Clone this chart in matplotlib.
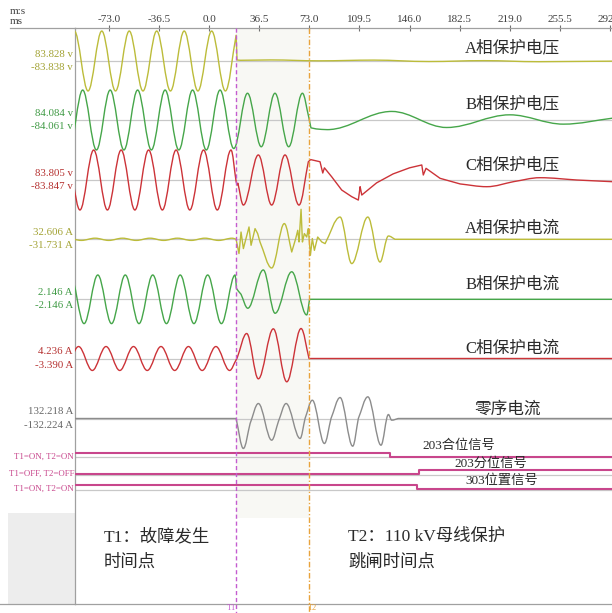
import matplotlib.pyplot as plt
from matplotlib.path import Path
from matplotlib.patches import PathPatch, Rectangle

plt.rcParams['font.family'] = ['Liberation Serif', 'Noto Sans CJK SC']

# time axis, ms
T_MIN, T_MAX = -97.6, 293.4
TICKS = [-73.0, -36.5, 0.0, 36.5, 73.0, 109.5, 146.0, 182.5, 219.0, 255.5, 292.0]
T1, T2 = 19.7, 73.0

CHANNELS = ['A相保护电压', 'B相保护电压', 'C相保护电压',
            'A相保护电流', 'B相保护电流', 'C相保护电流', '零序电流']
MAX_LABELS = ['83.828 v', '84.084 v', '83.805 v', '32.606 A', '2.146 A', '4.236 A', '132.218 A']
MIN_LABELS = ['-83.838 v', '-84.061 v', '-83.847 v', '-31.731 A', '-2.146 A', '-3.390 A', '-132.224 A']
FULL_SCALE = [83.828, 84.084, 83.805, 32.606, 2.146, 4.236, 132.218]

# keypoints: (time ms, value, 's' smooth extremum / 'l' corner)
VA_PTS = [(-98.1, 83.8, 's'), (-88.1, -83.8, 's'), (-78.1, 83.8, 's'), (-68.1, -83.8, 's'),
          (-58.1, 83.8, 's'), (-48.1, -83.8, 's'), (-38.1, 83.8, 's'), (-28.1, -83.8, 's'),
          (-18.1, 83.8, 's'), (-8.1, -83.8, 's'), (1.9, 83.8, 's'), (11.9, -83.8, 's'),
          (19.7, 72.0, 'l'), (20.4, 3.0, 'l'), (23.0, 2.0, 's'), (45.0, 3.0, 's'),
          (80.0, 0.5, 's'), (120.0, 2.5, 's'), (160.0, -1.5, 's'), (200.0, 1.0, 's'),
          (240.0, -2.0, 's'), (293.5, -0.5, 's')]

VB_PTS = [(-102.0, -84.0, 's'), (-92.0, 84.0, 's'), (-82.0, -84.0, 's'), (-72.0, 84.0, 's'),
          (-62.0, -84.0, 's'), (-52.0, 84.0, 's'), (-42.0, -84.0, 's'), (-32.0, 84.0, 's'),
          (-22.0, -84.0, 's'), (-12.0, 84.0, 's'), (-2.0, -84.0, 's'), (8.0, 84.0, 's'),
          (18.0, -80.0, 's'), (28.0, 75.0, 's'), (38.0, -75.0, 's'), (48.0, 75.0, 's'),
          (58.0, -75.0, 's'), (68.0, 75.0, 's'), (72.6, 8.0, 'l'), (74.2, -22.0, 'l'),
          (78.0, -25.0, 'l'), (86.0, -27.0, 's'), (133.0, 24.0, 's'), (173.0, -21.0, 's'),
          (219.0, 14.5, 's'), (258.0, -11.6, 's'), (293.5, 5.0, 'l')]

VC_PTS = [(-104.0, 83.8, 's'), (-94.0, -83.8, 's'), (-84.0, 83.8, 's'), (-74.0, -83.8, 's'),
          (-64.0, 83.8, 's'), (-54.0, -83.8, 's'), (-44.0, 83.8, 's'), (-34.0, -83.8, 's'),
          (-24.0, 83.8, 's'), (-14.0, -83.8, 's'), (-4.0, 83.8, 's'), (6.0, -83.8, 's'),
          (16.0, 83.8, 's'), (19.7, -4.0, 'l'), (20.4, -14.0, 'l'), (21.0, -9.0, 'l'),
          (25.0, -70.0, 's'), (35.9, 70.0, 's'), (45.6, -70.0, 's'), (55.3, 70.0, 's'),
          (65.5, -70.0, 's'), (72.3, 51.0, 'l'), (74.0, 57.0, 'l'), (80.8, 51.0, 'l'),
          (82.8, 19.5, 'l'), (84.0, 34.0, 'l'), (89.3, 9.0, 'l'), (96.6, -28.0, 'l'),
          (103.9, -46.6, 'l'), (108.7, -56.0, 'l'), (110.0, -18.7, 'l'), (111.2, -42.0, 'l'),
          (115.0, -30.0, 'l'), (122.0, -8.0, 'l'), (134.0, 17.0, 'l'), (146.0, 34.0, 'l'),
          (154.9, 42.0, 'l'), (156.0, 14.0, 'l'), (158.0, 32.6, 'l'), (168.2, 4.7, 'l'),
          (182.8, -11.0, 'l'), (202.2, -18.7, 's'), (221.6, -4.7, 'l'), (241.0, 6.4, 's'),
          (267.7, 0.0, 'l'), (293.5, -4.7, 'l')]

IA_PTS = [(-103.0, 1.2, 's'), (-93.0, -1.2, 's'), (-83.0, 1.2, 's'), (-73.0, -1.2, 's'),
          (-63.0, 1.2, 's'), (-53.0, -1.2, 's'), (-43.0, 1.2, 's'), (-33.0, -1.2, 's'),
          (-23.0, 1.2, 's'), (-13.0, -1.2, 's'), (-3.0, 1.2, 's'), (7.0, -1.2, 's'),
          (17.0, 1.2, 's'), (19.7, 0.0, 'l'), (21.8, -15.5, 'l'), (23.3, 7.9, 'l'),
          (25.0, -10.1, 'l'), (29.1, 13.4, 'l'), (30.6, -6.5, 'l'), (33.5, 11.6, 'l'),
          (35.4, 6.2, 'l'), (37.1, -2.9, 'l'), (45.6, -31.2, 's'), (54.8, 17.1, 's'),
          (60.2, -13.8, 'l'), (63.1, 0.8, 'l'), (64.6, 9.8, 'l'), (65.5, -2.9, 'l'),
          (67.0, 32.6, 'l'), (68.0, -2.9, 'l'), (69.4, 6.2, 'l'), (71.1, 2.5, 'l'),
          (72.3, 11.6, 'l'), (73.8, -17.4, 'l'), (75.2, 0.8, 'l'), (76.7, -12.0, 'l'),
          (79.1, 2.5, 'l'), (82.1, -2.9, 'l'), (84.5, -4.7, 'l'), (95.4, 24.2, 's'),
          (103.9, -26.4, 's'), (115.6, 24.2, 's'), (124.5, -24.7, 's'), (130.6, 3.6, 's'),
          (135.4, 0.0, 'l'), (293.5, 0.0, 'l')]

IB_PTS = [(-101.0, 1.74, 's'), (-91.0, -1.74, 's'), (-81.0, 1.74, 's'), (-71.0, -1.74, 's'),
          (-61.0, 1.74, 's'), (-51.0, -1.74, 's'), (-41.0, 1.74, 's'), (-31.0, -1.74, 's'),
          (-21.0, 1.74, 's'), (-11.0, -1.74, 's'), (-1.0, 1.74, 's'), (9.0, -1.74, 's'),
          (19.0, 1.74, 's'), (19.9, 0.79, 'l'), (21.3, 0.59, 'l'), (23.3, 0.36, 'l'),
          (28.2, -0.64, 's'), (39.5, 2.10, 's'), (48.1, -1.00, 's'), (60.2, 1.97, 's'),
          (71.1, -1.12, 's'), (73.2, 0.0, 'l'), (293.5, 0.0, 'l')]

IC_PTS = [(-105.0, -1.69, 's'), (-95.0, 1.69, 's'), (-85.0, -1.69, 's'), (-75.0, 1.69, 's'),
          (-65.0, -1.69, 's'), (-55.0, 1.69, 's'), (-45.0, -1.69, 's'), (-35.0, 1.69, 's'),
          (-25.0, -1.69, 's'), (-15.0, 1.69, 's'), (-5.0, -1.69, 's'), (5.0, 1.69, 's'),
          (15.0, -1.69, 's'), (19.7, -0.2, 'l'), (20.5, 0.1, 'l'), (27.4, 3.53, 's'),
          (35.9, -2.87, 's'), (46.8, 4.19, 's'), (56.6, -3.29, 's'), (67.0, 4.236, 's'),
          (72.8, 0.0, 'l'), (293.5, 0.0, 'l')]

I0_PTS = [(-97.6, 0.0, 'l'), (19.7, 0.0, 'l'), (25.0, -132.2, 's'), (29.9, -22.0, 'l'),
          (35.9, 66.1, 's'), (45.6, -95.6, 's'), (50.5, -13.2, 'l'), (56.1, 66.1, 's'),
          (66.3, -88.1, 's'), (69.9, 0.0, 'l'), (75.2, 80.6, 's'), (84.0, -110.2, 's'),
          (88.8, 0.0, 'l'), (95.4, 92.5, 's'), (104.6, -122.1, 's'), (108.7, 0.0, 'l'),
          (115.6, 95.6, 's'), (125.2, -117.7, 's'), (130.6, 17.6, 's'), (133.0, -7.5, 's'),
          (137.7, 0.0, 'l'), (293.5, 0.0, 'l')]

TRACES = [VA_PTS, VB_PTS, VC_PTS, IA_PTS, IB_PTS, IC_PTS, I0_PTS]

# switch signals
SIG_NAMES = ['203合位信号', '203分位信号', '303位置信号']
SIG_STATE_TEXT = ['T1=ON, T2=ON', 'T1=OFF, T2=OFF', 'T1=ON, T2=ON']
SIG_TIMES = [[-97.6, 131.8, 293.5], [-97.6, 152.9, 293.5], [-97.6, 151.7, 293.5]]
SIG_STATES = [[1, 0, 0], [0, 1, 1], [1, 0, 0]]

# layout (rows in image pixels)
ROWS = [61, 120, 180, 239.3, 299.3, 358.5, 418.5]
NAME_ROWS = [48.3, 104, 165, 228.3, 285, 348.3, 409.3]
NAME_X = [186.4] * 6 + [193.0]
SIG_ROWS = [456.5, 474.0, 489.3]
SIG_NAME_ROWS = [445.5, 464.0, 481.0]
SIG_NAME_X = [155.5, 179.0, 186.4]
FULL_PX = 30.0
PX_PER_MS = 1.3733
HANDLE = 0.36  # bezier handle length, fraction of segment width
COLORS = ['#bcbc3a', '#46a64a', '#cc3338', '#bcbc3a', '#46a64a', '#cc3338', '#8c8c8c']
TEXT_COLORS = ['#a2a232', '#3f9a44', '#b5302f', '#a2a232', '#3f9a44', '#b5302f', '#666666']
SIG_COLOR = '#c8468c'
T1_COLOR = '#c45cd0'
T2_COLOR = '#e8a33c'


def px_to_ms(x):
    return (x - 209) / PX_PER_MS


def draw_trace(ax, pts, row, full, color):
    per_px = full / FULL_PX
    ts = [p[0] for p in pts]
    ys = [row - p[1] / per_px for p in pts]
    ks = [p[2] for p in pts]
    verts = [(ts[0], ys[0])]
    codes = [Path.MOVETO]
    for i in range(len(pts) - 1):
        ta, ya, ka = ts[i], ys[i], ks[i]
        tb, yb, kb = ts[i + 1], ys[i + 1], ks[i + 1]
        if ka == 's':
            c1 = (ta + HANDLE * (tb - ta), ya)
        else:
            c1 = (ta + (tb - ta) / 3, ya + (yb - ya) / 3)
        if kb == 's':
            c2 = (tb - HANDLE * (tb - ta), yb)
        else:
            c2 = (tb - (tb - ta) / 3, yb - (yb - ya) / 3)
        verts += [c1, c2, (tb, yb)]
        codes += [Path.CURVE4] * 3
    ax.add_patch(PathPatch(Path(verts, codes), fill=False, ec=color, lw=1.0,
                           joinstyle='round', capstyle='round', zorder=3))


fig = plt.figure(figsize=(6.12, 6.13), dpi=100)
ax = fig.add_axes([75 / 612, 9 / 613, 537 / 612, 576 / 613])
ax.set_xlim(T_MIN, T_MAX)
ax.set_ylim(604, 28)

# axis frame
ax.spines['right'].set_visible(False)
for side in ['top', 'left', 'bottom']:
    ax.spines[side].set_color('#a0a0a0')
    ax.spines[side].set_linewidth(0.9)
ax.set_yticks([])
ax.xaxis.tick_top()
ax.set_xticks(TICKS)
ax.set_xticklabels(['%.1f' % t for t in TICKS])
ax.tick_params(axis='x', direction='inout', length=4, width=0.8, color='#707070',
               labelsize=8, labelcolor='#404040', pad=1)

# extensions of the frame lines into the label column
ax.plot([px_to_ms(10), T_MIN], [28, 28], color='#a0a0a0', lw=0.9, clip_on=False)
ax.plot([px_to_ms(0), T_MIN], [604, 604], color='#a0a0a0', lw=0.9, clip_on=False)
ax.add_patch(Rectangle((px_to_ms(8), 513), px_to_ms(75) - px_to_ms(8), 91,
                       color='#ededed', lw=0, clip_on=False, zorder=0))
ax.text(px_to_ms(10), 12, 'm:s', fontsize=8, color='#404040', va='center', clip_on=False)
ax.text(px_to_ms(10), 21, 'ms', fontsize=8, color='#404040', va='center', clip_on=False)

# faint band between fault and trip
ax.axvspan(T1, T2, ymin=0.15, color='#f8f8f4', lw=0, zorder=0)

# analogue channels
for i, name in enumerate(CHANNELS):
    ax.plot([T_MIN, T_MAX], [ROWS[i], ROWS[i]], color='#c8c8c8', lw=0.9, zorder=1)
    draw_trace(ax, TRACES[i], ROWS[i], FULL_SCALE[i], COLORS[i])
    ax.text(px_to_ms(73), ROWS[i] - 6.5, MAX_LABELS[i], ha='right', va='center',
            fontsize=7.8, color=TEXT_COLORS[i], clip_on=False)
    ax.text(px_to_ms(73), ROWS[i] + 6.5, MIN_LABELS[i], ha='right', va='center',
            fontsize=7.8, color=TEXT_COLORS[i], clip_on=False)
    ax.text(NAME_X[i], NAME_ROWS[i], name, fontsize=12, color='#2a2a2a', va='center')

# switch signals
for i, name in enumerate(SIG_NAMES):
    ax.plot([T_MIN, T_MAX], [SIG_ROWS[i] + 0.5, SIG_ROWS[i] + 0.5], color='#c8c8c8',
            lw=0.9, zorder=1)
    ys = [SIG_ROWS[i] - 4 * s for s in SIG_STATES[i]]
    ax.step(SIG_TIMES[i], ys, where='post', color=SIG_COLOR, lw=1.5, zorder=3)
    ax.text(px_to_ms(74), SIG_ROWS[i], SIG_STATE_TEXT[i], ha='right', va='center',
            fontsize=6.4, color=SIG_COLOR, clip_on=False)
    ax.text(SIG_NAME_X[i], SIG_NAME_ROWS[i], name, fontsize=9.5, color='#2a2a2a',
            va='center')

# event markers
ax.plot([T1, T1], [28, 613], color=T1_COLOR, lw=1.0, ls=(0, (3, 2)), clip_on=False, zorder=4)
ax.plot([T2, T2], [28, 613], color=T2_COLOR, lw=1.0, ls=(0, (4, 1.5, 1, 1.5)),
        clip_on=False, zorder=4)
ax.text(T1 - 3, 612.5, 'T1', fontsize=6, color=T1_COLOR, ha='center', va='bottom',
        clip_on=False)
ax.text(T2 + 2, 612.5, 'T2', fontsize=6, color=T2_COLOR, ha='center', va='bottom',
        clip_on=False)

ax.text(px_to_ms(104), 537, 'T1：故障发生', fontsize=12.5, color='#2a2a2a', va='center')
ax.text(px_to_ms(104), 563, '时间点', fontsize=12.5, color='#2a2a2a', va='center')
ax.text(px_to_ms(348), 537, 'T2：110 kV母线保护', fontsize=12.5, color='#2a2a2a', va='center')
ax.text(px_to_ms(348), 563, '跳闸时间点', fontsize=12.5, color='#2a2a2a', va='center')

fig.savefig('out.png', dpi=100)
